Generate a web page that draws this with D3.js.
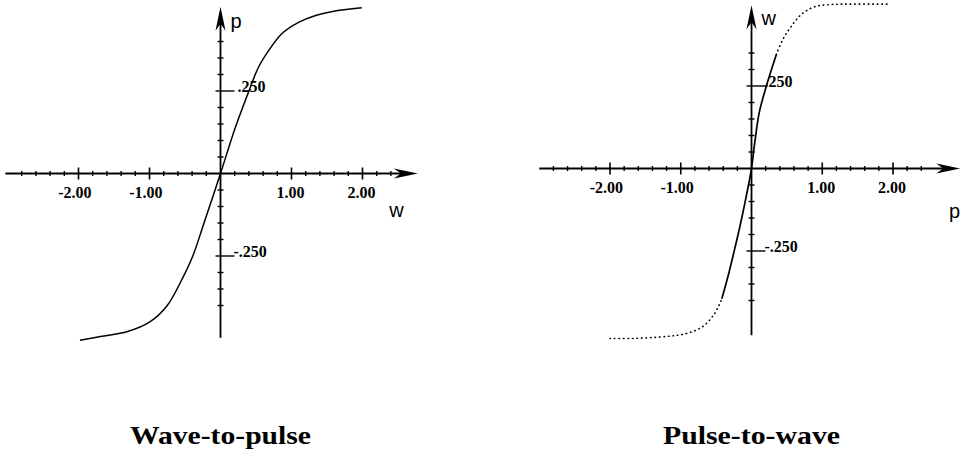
<!DOCTYPE html>
<html>
<head>
<meta charset="utf-8">
<script src="https://cdnjs.cloudflare.com/ajax/libs/d3/7.8.5/d3.min.js"></script>
<style>
  body { margin: 0; background: #fff; }
  .tick-label { font-family: "Liberation Serif", serif; font-weight: bold; font-size: 16px; }
  .axis-name { font-family: "Liberation Sans", sans-serif; font-size: 20px; }
  .title { font-family: "Liberation Serif", serif; font-weight: bold; font-size: 25px; }
</style>
</head>
<body>
<svg id="chart" width="969" height="460"></svg>
<script>
// wave-to-pulse: w on the horizontal axis, p up
const wpW = [-1.98, -1.69, -1.31, -0.99, -0.75, -0.56, -0.39, -0.24, -0.10, 0, 0.21, 0.39, 0.535, 0.68, 0.87, 1.10, 1.34, 1.58, 1.99];
const wpP = [-0.505, -0.494, -0.479, -0.449, -0.40, -0.328, -0.25, -0.155, -0.065, 0, 0.14, 0.244, 0.322, 0.373, 0.425, 0.458, 0.479, 0.491, 0.502];

// pulse-to-wave: p across, w up. dotted tails, solid middle
const pwLowP = [-2.0, -1.68, -1.2, -0.92, -0.69, -0.52, -0.42];
const pwLowW = [-0.515, -0.515, -0.509, -0.5, -0.479, -0.439, -0.395];
const pwMidP = [-0.42, -0.33, -0.25, -0.16, -0.075, 0, 0.05, 0.11, 0.21, 0.35];
const pwMidW = [-0.395, -0.325, -0.255, -0.172, -0.085, 0, 0.085, 0.17, 0.25, 0.345];
const pwHighP = [0.35, 0.44, 0.56, 0.70, 0.89, 1.13, 1.45, 1.94];
const pwHighW = [0.345, 0.39, 0.43, 0.466, 0.49, 0.497, 0.498, 0.498];

const xTickVals = [-2, -1, 1, 2];
const xTickText = ["-2.00", "-1.00", "1.00", "2.00"];
const yTickVals = [0.25, -0.25];
const yTickText = [".250", "-.250"];
const titles = ["Wave-to-pulse", "Pulse-to-wave"];

const svg = d3.select("#chart");

const zip = (a, b) => a.map((v, i) => [v, b[i]]);

// narrow notched arrow head pointing along (dx,dy)
function arrowHead(g, tipX, tipY, dx, dy) {
  const len = 24, half = 5, notch = 17;
  const px = -dy, py = dx;
  const pts = [
    [tipX, tipY],
    [tipX - dx * len + px * half, tipY - dy * len + py * half],
    [tipX - dx * notch, tipY - dy * notch],
    [tipX - dx * len - px * half, tipY - dy * len - py * half]
  ];
  g.append("path").attr("d", "M" + pts.join("L") + "Z").attr("fill", "#000");
}

function panel(cfg) {
  const x = d3.scaleLinear().domain([-2, 2]).range(cfg.xr);
  const y = d3.scaleLinear().domain([-0.25, 0.25]).range(cfg.yr);
  const g = svg.append("g");
  const x0 = x(0), y0 = y(0);

  // axes
  g.append("line").attr("x1", x(cfg.xExt[0])).attr("x2", x(cfg.xExt[1]) - 15)
    .attr("y1", y0).attr("y2", y0).attr("stroke", "#000").attr("stroke-width", 1.8);
  g.append("line").attr("x1", x0).attr("x2", x0)
    .attr("y1", y(cfg.yExt[0])).attr("y2", y(cfg.yExt[1]) + 15)
    .attr("stroke", "#000").attr("stroke-width", 1.8);
  arrowHead(g, x(cfg.xExt[1]), y0, 1, 0);
  arrowHead(g, x0, y(cfg.yExt[1]), 0, -1);

  // minor ticks
  const minorX = d3.range(-28, 25, 2).map(d => d / 10).filter(d => Math.abs(d % 1) > 0.01);
  g.selectAll(".mx").data(minorX).enter().append("line")
    .attr("x1", d => x(d)).attr("x2", d => x(d))
    .attr("y1", y0 - 2.5).attr("y2", y0 + 2.5)
    .attr("stroke", "#000").attr("stroke-width", 1.4);
  const minorY = d3.range(-8, cfg.yMinorTop + 1).map(d => d * 0.05).filter(d => Math.abs(d) > 0.01 && Math.abs(Math.abs(d) - 0.25) > 0.01);
  g.selectAll(".my").data(minorY).enter().append("line")
    .attr("x1", x0 - 3).attr("x2", x0 + 3)
    .attr("y1", d => y(d)).attr("y2", d => y(d))
    .attr("stroke", "#000").attr("stroke-width", 1.4);

  // major ticks + labels
  g.selectAll(".Mx").data(xTickVals).enter().append("line")
    .attr("x1", d => x(d)).attr("x2", d => x(d))
    .attr("y1", y0 - 6).attr("y2", y0 + 6)
    .attr("stroke", "#000").attr("stroke-width", 1.6);
  g.selectAll(".lx").data(xTickVals).enter().append("text")
    .attr("class", "tick-label").attr("text-anchor", "end")
    .attr("x", d => x(d) + 13).attr("y", y0 + 24)
    .text((d, i) => xTickText[i]);
  g.selectAll(".My").data(yTickVals).enter().append("line")
    .attr("x1", x0 - 5).attr("x2", x0 + 14)
    .attr("y1", d => y(d)).attr("y2", d => y(d))
    .attr("stroke", "#000").attr("stroke-width", 1.4);
  g.selectAll(".ly").data(yTickVals).enter().append("text")
    .attr("class", "tick-label")
    .attr("x", (d, i) => x0 + (i === 0 ? cfg.posLabelDx : 13)).attr("y", d => y(d) + 1)
    .text((d, i) => yTickText[i]);

  // axis names
  g.append("text").attr("class", "axis-name")
    .attr("x", x0 + cfg.vName[0]).attr("y", cfg.vName[1]).text(cfg.names[1]);
  g.append("text").attr("class", "axis-name").attr("text-anchor", "middle")
    .attr("x", x0 + cfg.hName[0]).attr("y", y0 + cfg.hName[1]).text(cfg.names[0]);

  // title
  g.append("text").attr("class", "title").attr("text-anchor", "middle")
    .attr("x", x0).attr("y", 444)
    .attr("textLength", cfg.titleLen).attr("lengthAdjust", "spacingAndGlyphs")
    .text(cfg.title);

  return { g, x, y };
}

// left panel
const L = panel({
  xr: [78.5, 362.5], yr: [256, 91], xExt: [-3.03, 2.78], yExt: [-0.498, 0.505],
  yMinorTop: 8, posLabelDx: 17, names: ["w", "p"], vName: [10, 28], hName: [176, 43],
  title: titles[0], titleLen: 181
});
const lineL = d3.line().x(d => L.x(d[0])).y(d => L.y(d[1])).curve(d3.curveCatmullRom.alpha(0.5));
L.g.append("path").datum(zip(wpW, wpP)).attr("d", lineL)
  .attr("fill", "none").attr("stroke", "#000").attr("stroke-width", 1.5);

// right panel
const R = panel({
  xr: [610, 893], yr: [251, 86], xExt: [-3.0, 2.95], yExt: [-0.505, 0.495],
  yMinorTop: 7, posLabelDx: 13, names: ["p", "w"], vName: [10, 25], hName: [203, 49],
  title: titles[1], titleLen: 177
});
const lineR = d3.line().x(d => R.x(d[0])).y(d => R.y(d[1])).curve(d3.curveCatmullRom.alpha(0.5));
R.g.append("path").datum(zip(pwMidP, pwMidW)).attr("d", lineR)
  .attr("fill", "none").attr("stroke", "#000").attr("stroke-width", 1.7);
[zip(pwLowP, pwLowW), zip(pwHighP, pwHighW)].forEach(seg => {
  R.g.append("path").datum(seg).attr("d", lineR)
    .attr("fill", "none").attr("stroke", "#000").attr("stroke-width", 1.6)
    .attr("stroke-linecap", "round").attr("stroke-dasharray", "0.5 4");
});
</script>
</body>
</html>
